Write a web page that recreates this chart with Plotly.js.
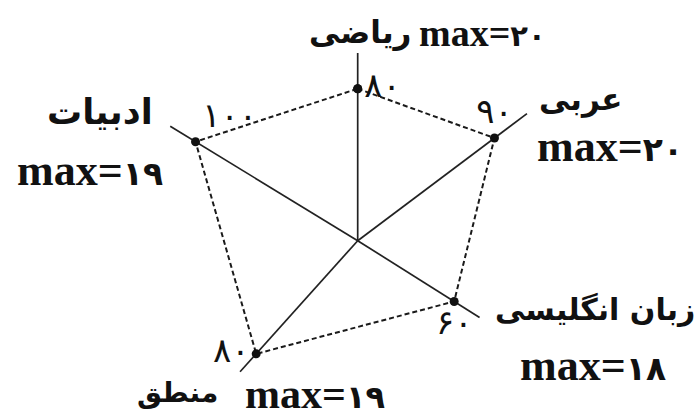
<!DOCTYPE html>
<html><head><meta charset="utf-8">
<script src="https://cdn.plot.ly/plotly-3.0.1.min.js"></script>
<style>html,body{margin:0;padding:0;overflow:hidden;background:#fff}#chart{width:700px;height:480px}</style>
</head><body><div id="chart"></div><script>
// ---- data ----
const subjects = ['ریاضی', 'عربی', 'زبان انگلیسی', 'منطق', 'ادبیات'];
const scores = [80, 90, 60, 80, 100];
const maxMarks = [20, 20, 18, 19, 19];

// ---- geometry of the hand-drawn axes (layout, not data) ----
const axisAngle = [90, 36.9, -32.2, 228.1, 148.6];
const axisLength = [98.8, 111.4, 75.8, 92.7, 115.6];
const valueTextPos = ['middle right', 'top center', 'bottom center', 'middle left', 'top right'];
// label placement in pixels: [wordX, wordY, wordAnchor, wordSize, maxX, maxY, maxAnchor, maxSize]
const labelPlace = [
  [413, 33, 'right', 31, 417, 33, 'left', 38],
  [537, 99, 'left', 31, 535, 146, 'left', 44],
  [493, 309, 'left', 30, 518, 365, 'left', 44],
  [220, 392, 'right', 28, 243, 394, 'left', 42],
  [155, 112, 'right', 35, 15, 170, 'left', 44]
];

const W = 700, H = 480;
const fa = s => String(s).replace(/\d/g, d => '۰۱۲۳۴۵۶۷۸۹'[d]);

const spokeR = [], spokeT = [];
subjects.forEach((s, i) => { spokeR.push(0, axisLength[i], null); spokeT.push(axisAngle[i], axisAngle[i], null); });

const traces = [
  {type: 'scatterpolar', mode: 'lines', r: spokeR, theta: spokeT,
   line: {color: '#222', width: 1.7}, hoverinfo: 'skip', showlegend: false},
  {type: 'scatterpolar', mode: 'lines+markers+text',
   r: scores.concat([scores[0]]), theta: axisAngle.concat([axisAngle[0]]),
   text: scores.map(fa).concat(['']), textposition: valueTextPos.concat(['top right']),
   textfont: {family: 'DejaVu Sans', size: 34, color: '#111', weight: 'normal'},
   line: {color: '#1a1a1a', width: 2, dash: '5px,3px'},
   marker: {color: '#111', size: 9, symbol: 'circle'},
   cliponaxis: false, showlegend: false}
];

const annotations = [];
subjects.forEach((s, i) => {
  const p = labelPlace[i];
  annotations.push({text: s, x: p[0] / W, y: 1 - p[1] / H, xref: 'paper', yref: 'paper',
    xanchor: p[2], yanchor: 'middle', showarrow: false,
    font: {family: 'DejaVu Sans', size: p[3], color: '#111', weight: 'bold'}});
  annotations.push({
    text: 'max=<span style="font-family:DejaVu Sans;font-size:' + Math.round(p[7] * 0.76) + 'px">' + fa(maxMarks[i]) + '</span>',
    x: p[4] / W, y: 1 - p[5] / H, xref: 'paper', yref: 'paper',
    xanchor: p[6], yanchor: 'middle', showarrow: false,
    font: {family: 'Liberation Serif, DejaVu Sans', size: p[7], color: '#111', weight: 'bold'}});
});

const cx = 357.7, cy = 240.7, R = 228;
const layout = {
  width: W, height: H, margin: {l: 0, r: 0, t: 0, b: 0},
  paper_bgcolor: '#fff', showlegend: false,
  polar: {
    domain: {x: [(cx - R) / W, (cx + R) / W], y: [(H - cy - R) / H, (H - cy + R) / H]},
    bgcolor: 'rgba(0,0,0,0)',
    radialaxis: {range: [0, 120], visible: false, showgrid: false, showline: false, showticklabels: false, ticks: ''},
    angularaxis: {type: 'linear', thetaunit: 'degrees', rotation: 0, direction: 'counterclockwise',
      visible: false, showgrid: false, showline: false, showticklabels: false, ticks: ''}
  },
  annotations: annotations
};
Plotly.newPlot('chart', traces, layout, {staticPlot: true, displayModeBar: false});
</script></body></html>
